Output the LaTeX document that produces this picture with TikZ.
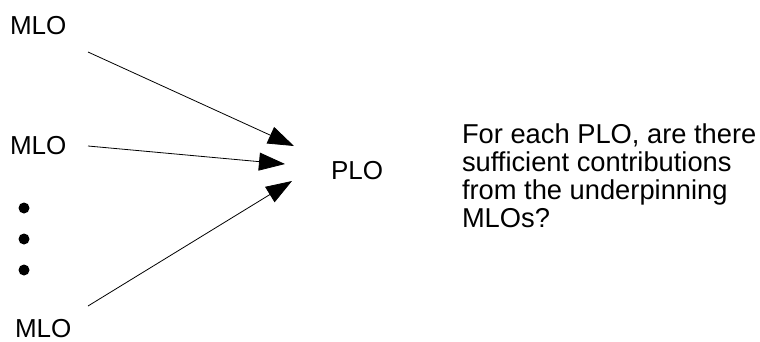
\documentclass[tikz,border=0pt]{standalone}
\usepackage{fontspec}
\setmainfont{Liberation Sans}
\usetikzlibrary{arrows.meta}
\newcommand{\tightlines}{\lineskiplimit=-20pt\relax}
\begin{document}
\begin{tikzpicture}[x=1pt,y=-1pt,
  lbl/.style={inner sep=0pt,outer sep=0pt,font=\fontsize{26}{28}\selectfont},
  note/.style={inner sep=0pt,outer sep=0pt,align=left,font=\fontsize{27.3}{28}\selectfont\tightlines},
  conn/.style={line width=0.8pt,-{Triangle[length=26pt,width=18pt]}},
  dotmark/.style={circle,fill=black,inner sep=0pt,minimum size=11pt}]
\useasboundingbox (0,0) rectangle (760,341);
\node[lbl,anchor=base west] (m1) at (10,34) {MLO};
\node[lbl,anchor=base west] (m2) at (10,154) {MLO};
\node[lbl,anchor=base west] (m3) at (15,337) {MLO};
\node[lbl,anchor=base west] (plo) at (331,179) {PLO};
\node[note,anchor=base west] (q) at (462,227) {For each PLO, are there\\sufficient contributions\\from the underpinning\\MLOs?};
\node[dotmark] (d1) at (24,208) {};
\node[dotmark] (d2) at (24,239) {};
\node[dotmark] (d3) at (24,270) {};
\coordinate (s1) at (88,52);
\coordinate (t1) at (294,146);
\coordinate (s2) at (88,146);
\coordinate (t2) at (285,164);
\coordinate (s3) at (88,306);
\coordinate (t3) at (292,181);
\draw[conn] (s1) -- (t1);
\draw[conn] (s2) -- (t2);
\draw[conn] (s3) -- (t3);
\end{tikzpicture}
\end{document}
